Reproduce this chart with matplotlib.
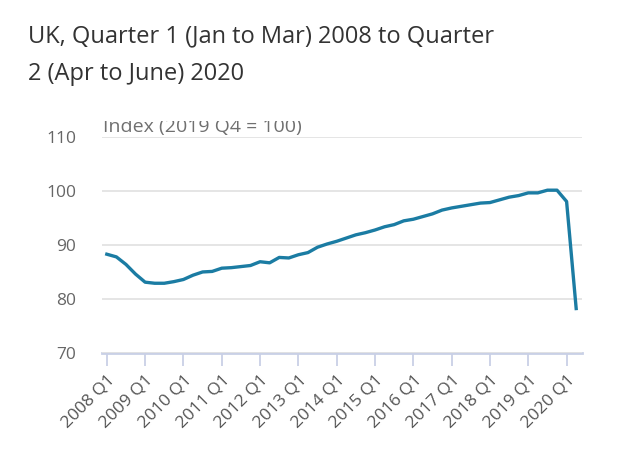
import matplotlib
matplotlib.use('Agg')
import matplotlib.pyplot as plt
from matplotlib.patches import Rectangle

plt.rcParams['font.family'] = ['Open Sans', 'DejaVu Sans']

# GDP index, 2019 Q4 = 100, quarterly from 2008 Q1 to 2020 Q2
gdp_2008 = [88.3, 87.8, 86.4, 84.6]
gdp_2009 = [83.1, 82.9, 82.9, 83.2]
gdp_2010 = [83.6, 84.4, 85.0, 85.1]
gdp_2011 = [85.7, 85.8, 86.0, 86.2]
gdp_2012 = [86.9, 86.7, 87.7, 87.6]
gdp_2013 = [88.2, 88.6, 89.6, 90.2]
gdp_2014 = [90.7, 91.3, 91.9, 92.3]
gdp_2015 = [92.8, 93.4, 93.8, 94.5]
gdp_2016 = [94.8, 95.3, 95.8, 96.5]
gdp_2017 = [96.9, 97.2, 97.5, 97.8]
gdp_2018 = [97.9, 98.4, 98.9, 99.2]
gdp_2019 = [99.7, 99.7, 100.2, 100.2]
gdp_2020 = [98.1, 78.2]

values = (gdp_2008 + gdp_2009 + gdp_2010 + gdp_2011 + gdp_2012 + gdp_2013 + gdp_2014
          + gdp_2015 + gdp_2016 + gdp_2017 + gdp_2018 + gdp_2019 + gdp_2020)
years = list(range(2008, 2021))
tick_labels = [f'{y} Q1' for y in years]
y_ticks = [70, 80, 90, 100, 110]

fig = plt.figure(figsize=(6.4, 4.74), dpi=100)
ax = fig.add_axes([0.160, 0.256, 0.750, 0.454])

ax.plot(range(len(values)), values, color='#1b7ca3', linewidth=2.4, solid_joinstyle='round')

ax.set_xlim(-0.46, 49.65)
ax.set_ylim(70, 110)
ax.set_yticks(y_ticks)
ax.set_xticks([4 * i for i in range(len(years))])
ax.set_xticklabels(tick_labels, rotation=45, ha='right', va='top', rotation_mode='anchor')

ax.grid(axis='y', color='#e3e3e3', linewidth=1.3)
ax.set_axisbelow(True)
for s in ['top', 'right', 'left']:
    ax.spines[s].set_visible(False)
ax.spines['bottom'].set_color('#c9d0e6')
ax.spines['bottom'].set_linewidth(2)
ax.spines['bottom'].set_zorder(0.5)

ax.tick_params(axis='y', length=0, pad=19, labelsize=12.5, labelcolor='#666666')
ax.tick_params(axis='x', length=9.5, width=1.3, color='#c9d0e6', pad=4,
               labelsize=12.5, labelcolor='#555555')

fig.text(28 / 640, 1 - 42 / 474, 'UK, Quarter 1 (Jan to Mar) 2008 to Quarter',
         fontsize=17, color='#333333', va='baseline')
fig.text(28 / 640, 1 - 80 / 474, '2 (Apr to June) 2020',
         fontsize=17, color='#333333', va='baseline')

# unit label, its top hidden as in the original
fig.text(103 / 640, 1 - 132 / 474, 'Index (2019 Q4 = 100)',
         fontsize=14, color='#707070', va='baseline', zorder=3)
fig.patches.append(Rectangle((90 / 640, 1 - 120.5 / 474), 260 / 640, 25 / 474,
                             transform=fig.transFigure, facecolor='white',
                             edgecolor='none', zorder=10))

fig.savefig('out.png', dpi=100)
